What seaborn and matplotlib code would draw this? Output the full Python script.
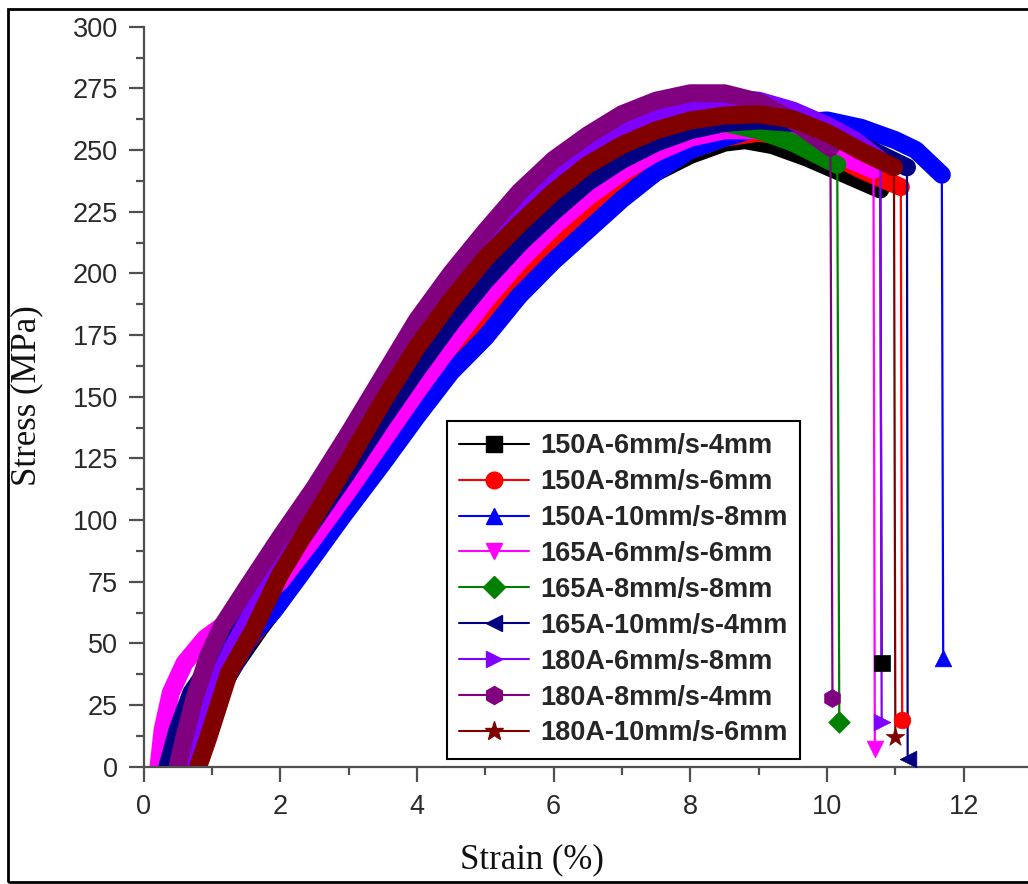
import matplotlib
matplotlib.use("Agg")
import matplotlib.pyplot as plt
import pandas as pd
import seaborn as sns
from matplotlib.lines import Line2D
from matplotlib.patches import Rectangle
from matplotlib.font_manager import FontProperties
from matplotlib.ticker import MultipleLocator

# ---------------- data ----------------
labels = ["150A-6mm/s-4mm", "150A-8mm/s-6mm", "150A-10mm/s-8mm",
          "165A-6mm/s-6mm", "165A-8mm/s-8mm", "165A-10mm/s-4mm",
          "180A-6mm/s-8mm", "180A-8mm/s-4mm", "180A-10mm/s-6mm"]

strain_150A_6_4 = [0.75, 0.9, 1.05, 1.35, 1.7, 2.0, 2.5, 3.0, 3.5, 4.0, 4.5, 5.0, 5.5, 6.0, 6.5, 7.0,
                   7.5, 8.0, 8.5, 8.8, 9.2, 9.7, 10.2, 10.78, 10.8]
stress_150A_6_4 = [0, 15, 28, 42, 56, 67, 87, 107, 127, 146, 164, 180, 195, 209, 221, 232,
                   241, 248, 253, 254, 252, 247, 241, 234, 42]

strain_150A_8_6 = [0.7, 0.85, 1.0, 1.3, 1.7, 2.0, 2.5, 3.0, 3.5, 4.0, 4.5, 5.0, 5.5, 6.0, 6.5, 7.0,
                   7.5, 8.0, 8.5, 9.0, 9.5, 10.0, 10.5, 11.08, 11.1]
stress_150A_8_6 = [0, 15, 28, 42, 57, 68, 88, 108, 128, 148, 166, 182, 197, 211, 223, 234,
                   243, 250, 255, 257, 255, 249, 242, 235, 19]

strain_150A_10_8 = [0.6, 0.8, 1.0, 1.3, 1.6, 1.9, 2.3, 2.9, 3.5, 4.0, 4.5, 5.0, 5.5, 6.0, 6.4, 7.0,
                    7.5, 8.0, 8.5, 9.0, 9.5, 10.0, 10.5, 11.0, 11.3, 11.68, 11.7]
stress_150A_10_8 = [0, 12, 25, 40, 54, 63, 78, 101, 123, 142, 160, 174, 191, 205, 215, 230,
                    241, 250, 255, 259, 261, 262, 259, 254, 250, 240, 44]

strain_165A_6_6 = [0.22, 0.28, 0.4, 0.6, 0.9, 1.3, 1.6, 2.0, 2.5, 3.0, 3.5, 4.0, 4.5, 5.0, 5.5, 6.0,
                   6.5, 7.0, 7.5, 8.0, 8.5, 9.0, 9.5, 10.0, 10.68, 10.7]
stress_165A_6_6 = [0, 15, 30, 42, 52, 60, 65, 75, 93, 112, 132, 152, 171, 189, 205, 219,
                   231, 241, 249, 255, 258, 258, 255, 250, 242, 7]

strain_165A_8_8 = [0.65, 0.8, 1.0, 1.3, 1.6, 2.0, 2.5, 3.0, 3.5, 4.0, 4.5, 5.0, 5.5, 6.0, 6.5, 7.0,
                   7.5, 8.0, 8.5, 9.0, 9.5, 10.15, 10.18]
stress_165A_8_8 = [0, 15, 30, 46, 62, 84, 109, 133, 156, 177, 195, 210, 222, 233, 242, 250,
                   256, 260, 261, 258, 253, 244, 18]

strain_165A_10_4 = [0.35, 0.5, 0.7, 1.0, 1.5, 2.0, 2.5, 3.0, 3.5, 4.0, 4.5, 5.0, 5.5, 6.0, 6.5, 7.0,
                    7.5, 8.0, 8.5, 9.0, 9.5, 10.0, 10.5, 11.17, 11.18]
stress_165A_10_4 = [0, 15, 30, 42, 60, 80, 100, 120, 141, 161, 180, 197, 212, 225, 237, 246,
                    253, 258, 261, 262, 261, 258, 252, 243, 3]

strain_180A_6_8 = [0.6, 0.8, 1.0, 1.3, 1.6, 2.0, 2.5, 3.0, 3.5, 4.0, 4.5, 5.0, 5.5, 6.0, 6.5, 7.0,
                   7.5, 8.0, 8.5, 9.0, 9.5, 10.0, 10.4, 10.78, 10.8]
stress_180A_6_8 = [0, 15, 30, 48, 63, 82, 105, 128, 150, 172, 192, 209, 224, 237, 248, 257,
                   264, 269, 271, 270, 266, 260, 254, 246, 18]

strain_180A_8_4 = [0.5, 0.6, 0.75, 0.95, 1.15, 1.5, 2.0, 2.5, 3.0, 3.5, 4.0, 4.5, 5.0, 5.5, 6.0, 6.5,
                   7.0, 7.5, 8.0, 8.5, 9.0, 9.5, 10.05, 10.08]
stress_180A_8_4 = [0, 12, 28, 45, 57, 72, 93, 113, 135, 158, 181, 200, 217, 233, 246, 256,
                   264.5, 270, 273, 273, 269.5, 262, 251, 28]

strain_180A_10_6 = [0.8, 0.95, 1.1, 1.25, 1.6, 2.0, 2.5, 3.0, 3.5, 4.0, 4.5, 5.0, 5.5, 6.0, 6.5, 7.0,
                    7.5, 8.0, 8.5, 9.0, 9.5, 10.0, 10.5, 10.98, 11.0]
stress_180A_10_6 = [0, 12, 25, 38, 55, 78, 101, 124, 148, 170, 189, 206, 220, 233, 244, 252,
                    258, 262, 264, 264.5, 262.5, 257, 249.5, 243, 12]

all_strain = [strain_150A_6_4, strain_150A_8_6, strain_150A_10_8, strain_165A_6_6, strain_165A_8_8,
              strain_165A_10_4, strain_180A_6_8, strain_180A_8_4, strain_180A_10_6]
all_stress = [stress_150A_6_4, stress_150A_8_6, stress_150A_10_8, stress_165A_6_6, stress_165A_8_8,
              stress_165A_10_4, stress_180A_6_8, stress_180A_8_4, stress_180A_10_6]

# ---------------- style ----------------
colors = ["#000000", "#FF0000", "#0000FF", "#FF00FF", "#008000",
          "#000080", "#8000FF", "#800080", "#800000"]
markers = ["s", "o", "^", "v", "D", "<", ">", "h", "*"]
msizes = [11, 12, 12, 12, 11, 12, 12, 13, 14]

sns.set_theme(style="ticks")
plt.rcParams["font.family"] = ["Liberation Sans", "DejaVu Sans"]

W, H = 1028, 884
fig = plt.figure(figsize=(W / 100, H / 100), dpi=100)
ax_left, ax_right = 143.5, 1028.0
ax_top, ax_bottom = 26.7, 766.7
ax = fig.add_axes([ax_left / W, (H - ax_bottom) / H, (ax_right - ax_left) / W, (ax_bottom - ax_top) / H])

for lab, xs, ys, c, m, ms in zip(labels, all_strain, all_stress, colors, markers, msizes):
    band = pd.DataFrame({"Strain": xs[:-1], "Stress": ys[:-1]})
    sns.lineplot(data=band, x="Strain", y="Stress", sort=False, estimator=None, color=c,
                 linewidth=13, ax=ax, legend=False, solid_capstyle="round", solid_joinstyle="round")
    drop = pd.DataFrame({"Strain": xs[-2:], "Stress": ys[-2:]})
    sns.lineplot(data=drop, x="Strain", y="Stress", sort=False, estimator=None, color=c,
                 linewidth=1.6, ax=ax, legend=False)
    end = pd.DataFrame({"Strain": xs[-1:], "Stress": ys[-1:]})
    sns.scatterplot(data=end, x="Strain", y="Stress", marker=m, s=ms ** 2, color=c,
                    edgecolor=c, linewidth=0.5, ax=ax, legend=False, zorder=5, clip_on=False)

ax.set_xlim(0, (ax_right - ax_left) / 68.35)
ax.set_ylim(0, 300)
ax.xaxis.set_major_locator(MultipleLocator(2))
ax.xaxis.set_minor_locator(MultipleLocator(1))
ax.yaxis.set_major_locator(MultipleLocator(25))
ax.yaxis.set_minor_locator(MultipleLocator(12.5))

for s in ["top", "right"]:
    ax.spines[s].set_visible(False)
for s in ["left", "bottom"]:
    ax.spines[s].set_color("#505050")
    ax.spines[s].set_linewidth(1.6)

ax.tick_params(which="major", direction="out", length=11, width=1.6, color="#505050",
               labelsize=19.5, labelcolor="#2a2a2a")
ax.tick_params(which="minor", direction="out", length=6, width=1.6, color="#505050")
ax.tick_params(axis="y", which="major", pad=7.5)
ax.tick_params(axis="x", which="major", pad=9)

ax.set_xlabel("Strain (%)", fontfamily=["Liberation Serif", "DejaVu Serif"], fontsize=25, color="#111111")
ax.set_ylabel("Stress (MPa)", fontfamily=["Liberation Serif", "DejaVu Serif"], fontsize=25, color="#111111")
ax.xaxis.set_label_coords(0.4387, -0.103)
ax.yaxis.set_label_coords(-0.1136, 0.502)

handles = [Line2D([0], [0], color=c, lw=1.5, marker=m, markersize=ms, markeredgecolor=c)
           for c, m, ms in zip(colors, markers, msizes)]
leg = ax.legend(handles, labels, loc="upper left", bbox_to_anchor=(0.343, 0.467),
                prop=FontProperties(family=["Liberation Sans", "DejaVu Sans"], weight="bold", size=19.5),
                frameon=True, fancybox=False, edgecolor="black", facecolor="white", framealpha=1,
                handlelength=2.6, handletextpad=0.4, borderpad=0.45, labelspacing=0.365,
                borderaxespad=0, numpoints=1)
leg.get_frame().set_linewidth(1.5)

fig.add_artist(Rectangle((8 / W, 2 / H), 1.2, (H - 9 - 2) / H, transform=fig.transFigure,
                         fill=False, lw=2, ec="black"))

fig.savefig("out.png", dpi=100)
